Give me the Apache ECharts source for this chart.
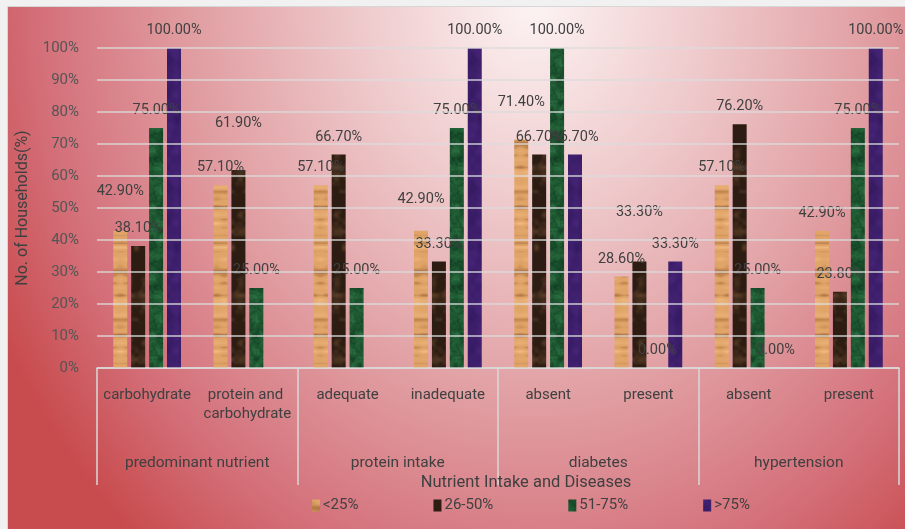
<!DOCTYPE html>
<html>
<head>
<meta charset="utf-8">
<script src="https://cdn.jsdelivr.net/npm/echarts@6/dist/echarts.min.js"></script>
<style>
  html, body { margin: 0; padding: 0; background: #f1f1f1; }
  #wrap { position: absolute; left: 0; top: 0; width: 905px; height: 529px; }
  #chart {
    position: absolute; left: 7px; top: 6px; width: 898px; height: 523px;
    border-top: 1px solid #d6d6d6; border-left: 1px solid #d6d6d6; box-sizing: border-box;
    background:
      radial-gradient(ellipse 600px 720px at 525px -10px,
        #fdf4f4 0%, #eec8ca 30%, #e09ca0 58%, #d4707a 82%, #c84c4e 100%);
  }
</style>
</head>
<body>
<div id="wrap"><div id="chart"></div></div>
<script>
// Sub-categories along the x axis and the group each pair belongs to
const categories = ['carbohydrate', 'protein and carbohydrate', 'adequate', 'inadequate',
                    'absent', 'present', 'absent', 'present'];
const groups = ['predominant nutrient', 'protein intake', 'diabetes', 'hypertension'];
const seriesNames = ['<25%', '26-50%', '51-75%', '>75%'];

// Share of households (%) per category, one array per bracket
const under25 = [42.9, 57.1, 57.1, 42.9, 71.4, 28.6, 57.1, 42.9];
const from26to50 = [38.1, 61.9, 66.7, 33.3, 66.7, 33.3, 76.2, 23.8];
const from51to75 = [75.0, 25.0, 25.0, 75.0, 100.0, 0.0, 25.0, 75.0];
const over75 = [100.0, null, null, 100.0, 66.7, 33.3, 0.0, 100.0];

// Y axis tick labels
const yTicks = ['0%', '10%', '20%', '30%', '40%', '50%', '60%', '70%', '80%', '90%', '100%'];

// Extra upward shift for labels that would otherwise collide: [series, category, px]
const labelLift = [[0, 0, 22], [1, 1, 29], [0, 3, 14], [0, 4, 20], [1, 5, 32]];

// Smooth value noise (hash based, deterministic) for the bar fill textures
function hash(x, y, seed) {
  const s = Math.sin(x * 127.1 + y * 311.7 + seed * 74.7) * 43758.5453;
  return s - Math.floor(s);
}
function vnoise(x, y, cell, seed, w, h) {
  const gx = x / cell, gy = y / cell;
  const x0 = Math.floor(gx), y0 = Math.floor(gy);
  const fx = gx - x0, fy = gy - y0;
  const cw = Math.round(w / cell), ch = Math.round(h / cell);
  const sx = fx * fx * (3 - 2 * fx), sy = fy * fy * (3 - 2 * fy);
  const a = hash(x0 % cw, y0 % ch, seed), b = hash((x0 + 1) % cw, y0 % ch, seed);
  const c = hash(x0 % cw, (y0 + 1) % ch, seed), d = hash((x0 + 1) % cw, (y0 + 1) % ch, seed);
  return (a + (b - a) * sx) + ((c + (d - c) * sx) - (a + (b - a) * sx)) * sy;
}

function texture(kind) {
  const w = 16, h = 128;
  const cv = document.createElement('canvas');
  cv.width = w; cv.height = h;
  const g = cv.getContext('2d');
  const img = g.createImageData(w, h);
  for (let y = 0; y < h; y++) {
    for (let x = 0; x < w; x++) {
      let r, gg, b;
      if (kind === 0) {
        // wood: horizontal grain
        const n = vnoise(0, y, 4, 1, w, h) * 0.7 + vnoise(x, y, 8, 2, w, h) * 0.3;
        const t = Math.max(0, (n - 0.55) / 0.45);
        const hl = Math.max(0, (0.35 - n) / 0.35);
        r = 224 - 70 * t + 16 * hl; gg = 164 - 68 * t + 22 * hl; b = 104 - 56 * t + 24 * hl;
      } else if (kind === 1) {
        const n = vnoise(x, y, 8, 3, w, h) * 0.65 + vnoise(x, y, 4, 4, w, h) * 0.35;
        const t = Math.max(0, (n - 0.45) / 0.55);
        r = 44 + 52 * t; gg = 28 + 38 * t; b = 18 + 24 * t;
      } else if (kind === 2) {
        const n = vnoise(x, y, 8, 5, w, h) * 0.6 + vnoise(x, y, 2, 6, w, h) * 0.4;
        const t = n - 0.5;
        r = 30 + 34 * t; gg = 88 + 60 * t; b = 50 + 38 * t;
      } else {
        const n = vnoise(x, y, 8, 7, w, h) * 0.7 + vnoise(x, y, 4, 8, w, h) * 0.3;
        const t = n - 0.5;
        r = 60 + 26 * t; gg = 30 + 16 * t; b = 106 + 34 * t;
      }
      const i = (y * w + x) * 4;
      img.data[i] = r; img.data[i + 1] = gg; img.data[i + 2] = b; img.data[i + 3] = 255;
    }
  }
  g.putImageData(img, 0, 0);
  return { image: cv, repeat: 'repeat' };
}

const values = [under25, from26to50, from51to75, over75];
const textColor = '#404040';
const fontFamily = 'Roboto, "Noto Sans", sans-serif';

const series = values.map(function (arr, si) {
  return {
    name: seriesNames[si],
    type: 'bar',
    barWidth: 14,
    barGap: '28%',
    itemStyle: { color: texture(si) },
    label: {
      show: true,
      position: 'top',
      distance: 10,
      color: textColor,
      fontSize: 14.5,
      fontFamily: fontFamily,
      formatter: function (p) { return p.value == null ? '' : Number(p.value).toFixed(2) + '%'; }
    },
    data: arr.map(function (v, ci) {
      const lift = labelLift.find(function (l) { return l[0] === si && l[1] === ci; });
      if (v == null) return '-';
      if (lift) return { value: v, label: { offset: [0, -lift[2]] } };
      return v;
    })
  };
});

const chart = echarts.init(document.getElementById('chart'), null, { renderer: 'canvas' });
chart.setOption({
  animation: false,
  backgroundColor: 'transparent',
  textStyle: { fontFamily: fontFamily },
  title: {
    text: 'Nutrient Intake and Diseases',
    left: 513, top: 462, textAlign: 'center',
    textStyle: { fontSize: 16.5, fontWeight: 'normal', color: textColor, fontFamily: fontFamily }
  },
  legend: {
    data: seriesNames,
    left: 304, top: 491, padding: 0,
    icon: 'rect', itemWidth: 8, itemHeight: 12, itemGap: 75,
    textStyle: { fontSize: 15, color: textColor, fontFamily: fontFamily, padding: [0, 0, 0, -2] }
  },
  grid: { left: 89, top: 41, width: 802, height: 320, outerBoundsMode: 'none', containLabel: false },
  xAxis: [
    {
      type: 'category',
      data: categories,
      axisLine: { show: true, lineStyle: { color: '#d9d9d9', width: 1.5 } },
      axisTick: {
        show: true, length: 117,
        interval: function (index) { return index % 2 === 0; },
        lineStyle: { color: '#d9d9d9', width: 1.5 }
      },
      axisLabel: {
        interval: 0, margin: 18, fontSize: 15, color: textColor, lineHeight: 19,
        width: 100, overflow: 'break', fontFamily: fontFamily
      },
      splitLine: { show: false }
    },
    {
      type: 'category',
      data: groups,
      position: 'bottom',
      axisLine: { show: false },
      axisTick: { show: false },
      axisLabel: { interval: 0, margin: 87, fontSize: 15.5, color: textColor, fontFamily: fontFamily },
      splitLine: { show: false }
    }
  ],
  yAxis: {
    type: 'value',
    min: 0, max: 100, interval: 10,
    z: 3,
    name: 'No. of Households(%)',
    nameLocation: 'middle',
    nameGap: 66,
    nameTextStyle: { fontSize: 16, color: textColor, fontFamily: fontFamily },
    axisLine: { show: false },
    axisTick: { show: false },
    axisLabel: {
      margin: 18, fontSize: 15, color: '#555555', fontFamily: fontFamily,
      formatter: function (v) { return yTicks[Math.round(v / 10)]; }
    },
    splitLine: { show: true, lineStyle: { color: 'rgba(220,220,220,0.9)', width: 1.5 } }
  },
  series: series
});
</script>
</body>
</html>
